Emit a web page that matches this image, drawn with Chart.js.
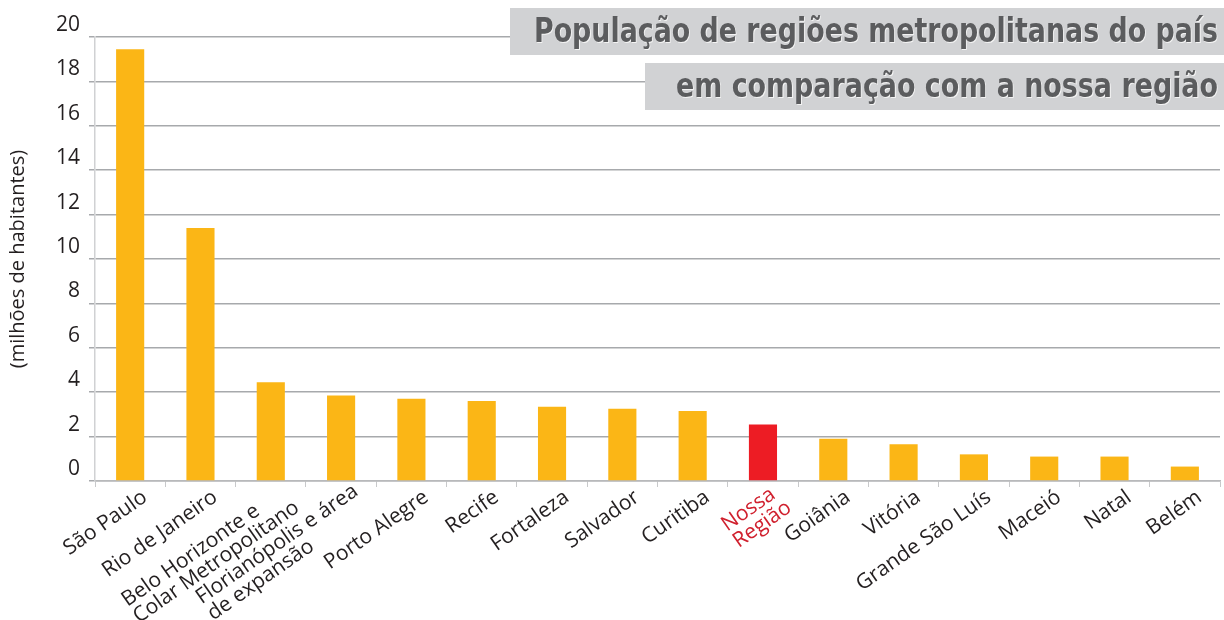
<!DOCTYPE html>
<html>
<head>
<meta charset="utf-8">
<script src="https://cdn.jsdelivr.net/npm/chart.js@4.4.0/dist/chart.umd.min.js"></script>
<style>
  html, body { margin: 0; padding: 0; background: #fff; }
  #wrap { width: 1224px; height: 620px; }
</style>
</head>
<body>
<div id="wrap"><canvas id="chart"></canvas></div>
<script>
// dados
var categories = [
    'São Paulo', 'Rio de Janeiro', ['Belo Horizonte e', 'Colar Metropolitano'],
    ['Florianópolis e área', 'de expansão'], 'Porto Alegre', 'Recife', 'Fortaleza',
    'Salvador', 'Curitiba', ['Nossa', 'Região'], 'Goiânia', 'Vitória',
    'Grande São Luís', 'Maceió', 'Natal', 'Belém'
];
var populacao = [19.45, 11.4, 4.45, 3.85, 3.7, 3.6, 3.35, 3.25, 3.15, 2.55, 1.9, 1.65, 1.2, 1.1, 1.1, 0.65];
var destaque = 9; // Nossa Região
var yTicks = [0, 2, 4, 6, 8, 10, 12, 14, 16, 18, 20];
var titleLines = ['População de regiões metropolitanas do país', 'em comparação com a nossa região'];

var amarelo = '#fbb616';
var vermelho = '#ed1c24';
var fonte = '"Open Sans", "Noto Sans", sans-serif';

// caixas cinzas do título
var titlePlugin = {
    id: 'titleBoxes',
    afterDraw: function (chart) {
        var ctx = chart.ctx;
        var boxes = [
            { x: 510, y: 8, w: 714, h: 47, tx: 534, tw: 684, base: 42 },
            { x: 645, y: 63, w: 579, h: 47, tx: 676, tw: 542, base: 97 }
        ];
        ctx.save();
        boxes.forEach(function (b, i) {
            ctx.fillStyle = '#d1d2d4';
            ctx.fillRect(b.x, b.y, b.w, b.h);
            ctx.font = 'bold 33px "DejaVu Sans", sans-serif';
            var w = ctx.measureText(titleLines[i]).width;
            ctx.save();
            ctx.translate(b.tx, b.base);
            ctx.scale(b.tw / w, 1);
            ctx.textBaseline = 'alphabetic';
            ctx.fillStyle = '#f4f4f4';
            ctx.fillText(titleLines[i], 1, 1);
            ctx.fillStyle = '#5b5c5e';
            ctx.fillText(titleLines[i], 0, 0);
            ctx.restore();
        });
        ctx.restore();
    }
};

// rótulos do eixo x inclinados, linhas alinhadas à esquerda
var xLabelPlugin = {
    id: 'xLabels',
    afterDraw: function (chart) {
        var ctx = chart.ctx;
        var xs = chart.scales.x;
        var ang = 35 * Math.PI / 180;
        var lh = 20;
        ctx.save();
        ctx.font = '21px ' + fonte;
        chart.data.labels.forEach(function (lab, i) {
            var lines = Array.isArray(lab) ? lab : [lab];
            var maxW = Math.max.apply(null, lines.map(function (t) { return ctx.measureText(t).width; }));
            var px = xs.getPixelForTick(i);
            ctx.save();
            ctx.translate(px + 9, xs.top + 6 - (lines.length - 1) * 6);
            ctx.rotate(-ang);
            ctx.textAlign = 'left';
            ctx.textBaseline = 'middle';
            ctx.fillStyle = i === destaque ? '#d0202e' : '#231f20';
            lines.forEach(function (t, j) {
                ctx.fillText(t, -maxW, lh / 2 + j * lh);
            });
            ctx.restore();
        });
        ctx.restore();
    }
};

var ctx = document.getElementById('chart').getContext('2d');
var chart = new Chart(ctx, {
    type: 'bar',
    data: {
        labels: categories,
        datasets: [{
            data: populacao,
            backgroundColor: populacao.map(function (v, i) { return i === destaque ? vermelho : amarelo; }),
            barPercentage: 0.4,
            categoryPercentage: 1.0
        }]
    },
    options: {
        responsive: true,
        maintainAspectRatio: false,
        animation: false,
        layout: { padding: { top: 37, right: 4, left: 0, bottom: 0 } },
        plugins: {
            legend: { display: false },
            tooltip: { enabled: false }
        },
        scales: {
            x: {
                afterFit: function (scale) { scale.height = 139; },
                grid: {
                    offset: true,
                    drawOnChartArea: false,
                    tickLength: 6,
                    color: '#c8c9cb'
                },
                border: { color: '#b8b9bb', width: 1.5 },
                ticks: {
                    autoSkip: false,
                    maxRotation: 0,
                    color: 'rgba(0,0,0,0)',
                    font: { family: fonte, size: 19 }
                }
            },
            y: {
                min: 0,
                max: 20,
                afterFit: function (scale) { scale.width = 95; },
                afterBuildTicks: function (scale) {
                    scale.ticks = yTicks.map(function (v) { return { value: v }; });
                },
                grid: {
                    color: '#a7a9ac',
                    lineWidth: 1.5,
                    tickLength: 6
                },
                border: { color: '#d0d1d3', width: 1.5 },
                ticks: {
                    padding: 9,
                    labelOffset: -12,
                    color: '#231f20',
                    font: { family: fonte, size: 21 }
                },
                title: {
                    display: true,
                    text: '(milhões de habitantes)',
                    color: '#231f20',
                    padding: { top: 6, bottom: 1 },
                    font: { family: fonte, size: 20 }
                }
            }
        }
    },
    plugins: [titlePlugin, xLabelPlugin]
});
</script>
</body>
</html>
